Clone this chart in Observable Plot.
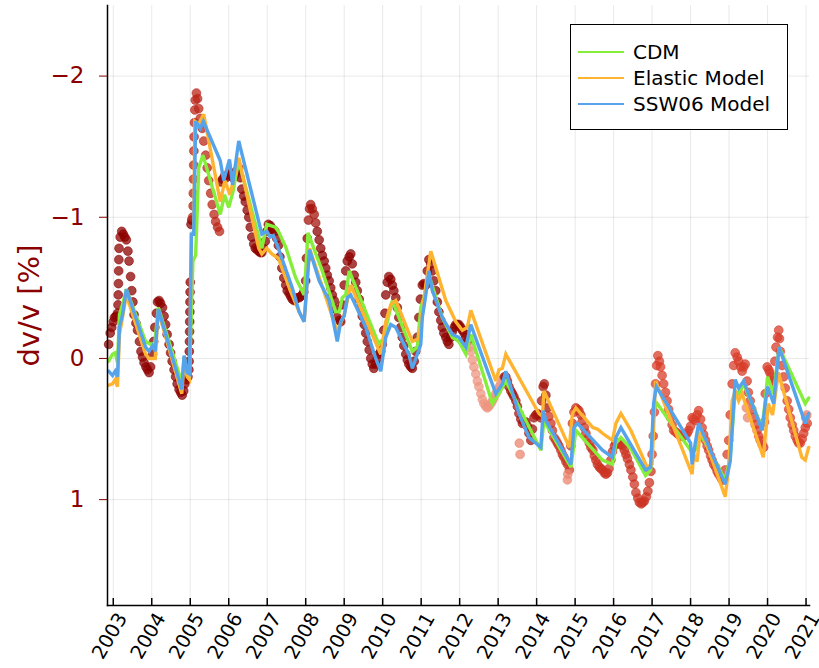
<!DOCTYPE html>
<html>
<head>
<meta charset="utf-8">
<script src="https://cdn.jsdelivr.net/npm/d3@7"></script>
<script src="https://cdn.jsdelivr.net/npm/@observablehq/plot@0.6"></script>
<style>
  html, body { margin: 0; padding: 0; background: #fff; }
  #wrap { position: relative; width: 819px; height: 668px; font-family: "DejaVu Sans", sans-serif; }
  .legend { position: absolute; left: 570px; top: 24px; width: 216px; height: 104px; border: 1.5px solid #000; background: #fff; }
  .legend .row { position: absolute; left: 7px; height: 26px; display: flex; align-items: center; font-size: 20px; color: #000; }
  .legend .sw { width: 46px; height: 2.5px; margin-right: 9px; }
</style>
</head>
<body>
<div id="wrap"></div>
<script>
// ---------- data ----------
const xTickYears = [2003,2004,2005,2006,2007,2008,2009,2010,2011,2012,2013,2014,2015,2016,2017,2018,2019,2020,2021];
const yTickValues = [-2, -1, 0, 1];
const seriesNames = ["CDM", "Elastic Model", "SSW06 Model"];
const seriesColors = ["#84ee3a", "#ffb431", "#55a3ea"];

// observed dv/v [%] : [decimal year, value]
const observed = [
[2002.88,-0.10],[2002.92,-0.18],[2002.96,-0.22],[2003.00,-0.26],[2003.03,-0.29],[2003.07,-0.30],[2003.11,-0.32],
[2003.125,-0.38],[2003.13,-0.45],[2003.135,-0.53],[2003.14,-0.62],[2003.145,-0.70],[2003.15,-0.78],[2003.18,-0.86],
[2003.22,-0.90],[2003.26,-0.88],[2003.30,-0.86],[2003.34,-0.84],[2003.38,-0.76],[2003.41,-0.69],[2003.45,-0.58],
[2003.48,-0.48],[2003.51,-0.40],[2003.54,-0.31],[2003.59,-0.25],[2003.63,-0.20],[2003.68,-0.12],[2003.72,-0.05],
[2003.76,-0.01],[2003.80,0.03],[2003.85,0.06],[2003.89,0.08],[2003.93,0.10],[2003.97,0.06],
[2004.02,-0.03],[2004.05,-0.12],[2004.08,-0.22],[2004.12,-0.32],[2004.15,-0.40],[2004.19,-0.41],[2004.23,-0.39],
[2004.28,-0.36],[2004.32,-0.30],[2004.36,-0.24],[2004.40,-0.17],[2004.45,-0.10],[2004.49,-0.04],[2004.53,0.02],
[2004.58,0.08],[2004.62,0.13],[2004.66,0.18],[2004.71,0.22],[2004.75,0.24],[2004.79,0.26],[2004.83,0.23],
[2004.86,0.18],[2004.90,0.15],[2004.94,0.13],[2004.965,0.08],[2004.97,0.02],[2004.975,-0.05],[2004.98,-0.12],
[2004.983,-0.19],[2004.986,-0.26],[2004.99,-0.33],[2004.993,-0.40],[2004.996,-0.47],[2005.00,-0.54],
[2005.02,-0.95],[2005.04,-0.98],[2005.06,-1.00],[2005.075,-1.08],[2005.08,-1.17],[2005.085,-1.27],[2005.09,-1.37],
[2005.095,-1.47],[2005.10,-1.57],[2005.11,-1.67],[2005.12,-1.76],[2005.13,-1.83],[2005.16,-1.88],[2005.19,-1.84],
[2005.22,-1.77],[2005.26,-1.70],[2005.31,-1.63],[2005.35,-1.54],[2005.40,-1.44],[2005.44,-1.35],[2005.48,-1.26],
[2005.53,-1.17],[2005.57,-1.09],[2005.62,-1.02],[2005.66,-0.97],[2005.71,-0.93],[2005.76,-0.90],
[2005.80,-1.25],[2005.84,-1.27],[2005.89,-1.29],[2005.93,-1.28],[2005.98,-1.30],
[2006.02,-1.32],[2006.07,-1.30],[2006.11,-1.28],[2006.16,-1.30],[2006.21,-1.33],[2006.26,-1.35],[2006.30,-1.28],
[2006.34,-1.20],[2006.39,-1.15],[2006.43,-1.11],[2006.48,-1.05],[2006.52,-1.00],[2006.56,-0.93],[2006.60,-0.86],
[2006.65,-0.81],[2006.69,-0.78],[2006.74,-0.77],[2006.78,-0.76],[2006.82,-0.75],[2006.86,-0.75],[2006.90,-0.78],
[2006.95,-0.83],[2006.99,-0.90],
[2007.03,-0.95],[2007.08,-0.94],[2007.12,-0.92],[2007.16,-0.91],[2007.20,-0.90],[2007.25,-0.85],[2007.29,-0.80],
[2007.33,-0.72],[2007.38,-0.64],[2007.43,-0.57],[2007.48,-0.52],[2007.52,-0.48],[2007.57,-0.46],[2007.61,-0.44],
[2007.65,-0.42],[2007.70,-0.41],[2007.74,-0.42],[2007.78,-0.43],[2007.83,-0.43],[2007.87,-0.44],[2007.91,-0.45],
[2007.95,-0.47],
[2008.00,-0.55],[2008.02,-0.71],[2008.04,-0.85],[2008.07,-0.98],[2008.10,-1.06],[2008.13,-1.09],[2008.17,-1.06],
[2008.22,-1.02],[2008.26,-0.96],[2008.30,-0.90],[2008.35,-0.84],[2008.39,-0.78],[2008.43,-0.73],[2008.48,-0.69],
[2008.52,-0.64],[2008.56,-0.59],[2008.61,-0.55],[2008.65,-0.50],[2008.69,-0.45],[2008.74,-0.41],[2008.78,-0.35],
[2008.82,-0.29],[2008.87,-0.27],[2008.91,-0.26],[2008.95,-0.38],
[2009.00,-0.52],[2009.04,-0.62],[2009.08,-0.69],[2009.13,-0.72],[2009.17,-0.74],[2009.21,-0.67],[2009.26,-0.59],
[2009.30,-0.54],[2009.34,-0.48],[2009.39,-0.42],[2009.43,-0.36],[2009.47,-0.30],[2009.52,-0.24],[2009.56,-0.18],
[2009.60,-0.12],[2009.65,-0.06],[2009.69,0.00],[2009.73,0.04],[2009.77,0.07],[2009.82,0.04],[2009.86,0.00],
[2009.90,-0.03],[2009.95,-0.05],[2009.99,-0.10],
[2010.03,-0.20],[2010.06,-0.32],[2010.08,-0.45],[2010.12,-0.54],[2010.16,-0.58],[2010.21,-0.56],[2010.25,-0.52],
[2010.29,-0.48],[2010.34,-0.43],[2010.38,-0.36],[2010.42,-0.29],[2010.47,-0.22],[2010.51,-0.15],[2010.55,-0.09],
[2010.60,-0.03],[2010.64,0.01],[2010.68,0.04],[2010.73,0.06],[2010.77,0.07],[2010.82,0.02],[2010.86,-0.05],
[2010.90,-0.15],[2010.94,-0.29],[2010.98,-0.42],
[2011.03,-0.52],[2011.07,-0.53],[2011.12,-0.52],[2011.16,-0.62],[2011.20,-0.70],[2011.25,-0.67],[2011.29,-0.62],
[2011.33,-0.55],[2011.38,-0.48],[2011.42,-0.40],[2011.46,-0.33],[2011.51,-0.27],[2011.55,-0.22],[2011.59,-0.18],
[2011.64,-0.15],[2011.68,-0.12],[2011.72,-0.10],[2011.77,-0.15],[2011.81,-0.19],[2011.86,-0.22],[2011.90,-0.24],
[2011.94,-0.24],[2011.98,-0.24],
[2012.03,-0.22],[2012.07,-0.20],[2012.12,-0.18],[2012.16,-0.15],[2012.20,-0.12],[2012.25,-0.08],[2012.29,-0.05],
[2012.33,0.01],[2012.37,0.06],[2012.42,0.11],[2012.46,0.16],[2012.50,0.20],[2012.55,0.25],[2012.59,0.29],
[2012.63,0.32],[2012.68,0.34],[2012.72,0.35],[2012.76,0.34],[2012.81,0.32],[2012.85,0.30],[2012.89,0.28],
[2012.94,0.25],[2012.98,0.23],
[2013.03,0.20],[2013.07,0.18],[2013.11,0.15],[2013.16,0.13],[2013.20,0.13],[2013.24,0.16],[2013.28,0.20],
[2013.33,0.23],[2013.37,0.25],[2013.41,0.27],[2013.46,0.30],[2013.50,0.34],[2013.54,0.39],[2013.59,0.43],
[2013.63,0.46],[2013.67,0.45],[2013.72,0.45],[2013.76,0.48],[2013.80,0.53],[2013.85,0.58],[2013.89,0.50],
[2013.93,0.42],[2013.98,0.40],
[2014.02,0.39],[2014.06,0.40],[2014.10,0.42],[2014.13,0.30],[2014.17,0.20],[2014.20,0.18],[2014.24,0.26],
[2014.28,0.35],[2014.32,0.41],[2014.37,0.46],[2014.41,0.51],[2014.45,0.56],[2014.50,0.58],[2014.54,0.60],
[2014.58,0.62],[2014.63,0.65],[2014.67,0.68],[2014.71,0.70],[2014.76,0.73],[2014.80,0.75],[2014.85,0.79],
[2014.89,0.62],[2014.93,0.46],[2014.97,0.38],
[2015.02,0.35],[2015.06,0.36],[2015.10,0.37],[2015.15,0.40],[2015.19,0.44],[2015.24,0.49],[2015.28,0.53],
[2015.32,0.57],[2015.37,0.60],[2015.41,0.63],[2015.46,0.65],[2015.50,0.69],[2015.54,0.72],[2015.58,0.75],
[2015.63,0.77],[2015.67,0.78],[2015.71,0.79],[2015.76,0.81],[2015.80,0.82],[2015.84,0.81],[2015.88,0.78],
[2015.93,0.72],[2015.97,0.66],
[2016.02,0.62],[2016.06,0.60],[2016.10,0.60],[2016.15,0.60],[2016.19,0.61],[2016.23,0.62],[2016.28,0.65],
[2016.32,0.68],[2016.36,0.71],[2016.41,0.75],[2016.45,0.79],[2016.50,0.84],[2016.54,0.89],[2016.58,0.95],
[2016.63,0.99],[2016.67,1.02],[2016.72,1.03],[2016.76,1.02],[2016.80,1.01],[2016.85,0.98],[2016.89,0.94],
[2016.93,0.88],[2016.97,0.80],
[2017.00,0.68],[2017.03,0.55],[2017.06,0.38],[2017.09,0.18],[2017.12,0.05],[2017.15,-0.02],[2017.19,0.02],
[2017.22,0.06],[2017.26,0.12],[2017.30,0.18],[2017.35,0.24],[2017.39,0.30],[2017.43,0.36],[2017.48,0.42],
[2017.52,0.47],[2017.56,0.51],[2017.61,0.52],[2017.65,0.53],[2017.69,0.54],[2017.74,0.55],[2017.78,0.55],
[2017.82,0.55],[2017.87,0.54],[2017.91,0.53],[2017.95,0.51],
[2018.00,0.48],[2018.04,0.42],[2018.08,0.43],[2018.13,0.44],[2018.17,0.40],[2018.21,0.37],[2018.26,0.43],
[2018.30,0.49],[2018.34,0.54],[2018.39,0.58],[2018.43,0.62],[2018.47,0.65],[2018.52,0.69],[2018.56,0.72],
[2018.60,0.75],[2018.65,0.77],[2018.69,0.80],[2018.73,0.82],[2018.78,0.84],[2018.82,0.86],[2018.86,0.86],
[2018.90,0.79],[2018.95,0.68],[2018.99,0.58],
[2019.03,0.40],[2019.08,0.18],[2019.12,0.05],[2019.16,-0.04],[2019.21,-0.01],[2019.25,0.02],[2019.30,0.06],
[2019.34,0.09],[2019.38,0.06],[2019.42,0.04],[2019.47,0.16],[2019.50,0.24],[2019.55,0.30],[2019.59,0.36],
[2019.64,0.42],[2019.68,0.47],[2019.73,0.51],[2019.77,0.55],[2019.81,0.58],[2019.86,0.61],[2019.90,0.63],
[2019.92,0.45],[2019.94,0.25],[2019.99,0.06],
[2020.03,0.08],[2020.06,0.10],[2020.10,0.13],[2020.13,0.16],[2020.16,0.16],[2020.19,0.02],[2020.22,-0.08],
[2020.26,-0.15],[2020.29,-0.20],[2020.31,-0.14],[2020.33,-0.05],[2020.38,0.05],[2020.42,0.13],[2020.46,0.21],
[2020.51,0.30],[2020.55,0.36],[2020.59,0.42],[2020.64,0.47],[2020.68,0.51],[2020.72,0.55],[2020.77,0.58],
[2020.81,0.60],[2020.85,0.60],[2020.90,0.57],[2020.94,0.53],[2020.98,0.49],[2021.03,0.46]
];
// scattered pale observations
const observedPale = [[2013.55,0.60],[2013.57,0.68],[2014.80,0.86],[2014.81,0.82],[2019.45,0.35],[2019.48,0.42],[2020.99,0.42],[2021.02,0.40]];

// colour level of observed points (1 = dark red, 0 = pale salmon)
const shadeBreaks = [2005.05, 2005.78, 2008.05, 2008.3, 2012.25, 2013.16, 2014.3, 2017.0];
const shadeLevels = [0.98, 0.72, 0.98, 0.85, 0.98, 0.12, 0.85, 0.62, 0.55];
const paleLevel = 0.2;

// model curves : [decimal year, value]
const cdm = [
[2002.88,0.02],[2002.98,-0.03],[2003.05,-0.04],[2003.11,0.03],[2003.16,-0.31],[2003.24,-0.38],[2003.34,-0.49],
[2003.84,-0.12],[2003.97,-0.10],[2004.08,-0.11],[2004.17,-0.36],[2004.78,0.17],[2004.84,-0.01],[2004.92,0.09],
[2004.98,0.11],[2005.07,-0.69],[2005.14,-0.73],[2005.22,-1.35],[2005.33,-1.44],[2005.78,-1.02],[2005.89,-1.16],
[2006.00,-1.07],[2006.11,-1.18],[2006.26,-1.40],[2006.86,-0.78],[2006.99,-0.95],[2007.21,-0.93],[2007.29,-0.90],
[2007.48,-0.79],[2007.74,-0.57],[2007.96,-0.45],[2008.06,-0.89],[2008.43,-0.62],[2008.78,-0.33],[2008.87,-0.33],
[2008.95,-0.43],[2009.04,-0.45],[2009.13,-0.62],[2009.90,-0.10],[2009.95,-0.12],[2010.03,-0.14],[2010.12,-0.26],
[2010.25,-0.41],[2010.77,-0.05],[2010.90,-0.08],[2010.99,-0.36],[2011.07,-0.43],[2011.20,-0.59],[2011.55,-0.29],
[2011.81,-0.15],[2011.98,-0.12],[2012.16,-0.03],[2012.29,-0.17],[2012.85,0.32],[2013.02,0.25],[2013.20,0.16],
[2014.11,0.65],[2014.19,0.44],[2014.89,0.77],[2015.02,0.51],[2015.71,0.72],[2015.97,0.75],[2016.06,0.60],
[2016.19,0.56],[2016.45,0.64],[2016.83,0.83],[2016.96,0.79],[2017.04,0.37],[2017.13,0.32],[2018.00,0.65],
[2018.04,0.67],[2018.12,0.65],[2018.21,0.51],[2018.90,0.86],[2019.03,0.70],[2019.16,0.23],[2019.25,0.25],
[2019.38,0.18],[2019.86,0.49],[2019.94,0.30],[2020.00,0.13],[2020.16,0.25],[2020.30,-0.08],[2020.98,0.32],
[2021.07,0.28]
];
const elastic = [
[2002.88,0.19],[2002.98,0.18],[2003.05,0.15],[2003.11,0.20],[2003.16,-0.17],[2003.24,-0.29],[2003.34,-0.45],
[2003.84,-0.03],[2003.93,0.00],[2004.09,0.00],[2004.17,-0.34],[2004.78,0.25],[2004.84,0.02],[2004.92,0.13],
[2004.98,0.15],[2005.03,-0.88],[2005.09,-0.90],[2005.12,-1.68],[2005.22,-1.66],[2005.35,-1.73],[2005.78,-1.11],
[2005.90,-1.26],[2006.03,-1.16],[2006.12,-1.26],[2006.26,-1.42],[2006.78,-0.78],[2006.86,-0.74],[2006.99,-0.78],
[2007.12,-0.74],[2007.29,-0.71],[2007.60,-0.48],[2007.83,-0.33],[2007.96,-0.26],[2008.10,-0.78],[2008.82,-0.19],
[2009.00,-0.31],[2009.17,-0.52],[2009.95,-0.03],[2010.08,-0.26],[2010.21,-0.38],[2010.34,-0.41],[2010.77,-0.12],
[2010.94,-0.14],[2011.12,-0.52],[2011.25,-0.76],[2011.64,-0.41],[2011.90,-0.26],[2012.07,-0.20],[2012.20,-0.22],
[2012.29,-0.34],[2012.94,0.16],[2013.02,0.08],[2013.11,0.07],[2013.20,-0.03],[2014.06,0.39],[2014.15,0.41],
[2014.19,0.23],[2014.85,0.63],[2014.93,0.39],[2015.02,0.35],[2015.46,0.49],[2015.58,0.50],[2015.71,0.53],
[2015.97,0.58],[2016.06,0.46],[2016.19,0.39],[2016.45,0.51],[2016.87,0.77],[2017.00,0.75],[2017.09,0.16],
[2018.04,0.82],[2018.08,0.68],[2018.17,0.73],[2018.26,0.49],[2018.90,0.98],[2018.99,0.77],[2019.08,0.30],
[2019.16,0.23],[2019.25,0.30],[2019.34,0.25],[2019.89,0.70],[2020.02,0.32],[2020.13,0.40],[2020.28,0.10],
[2020.89,0.70],[2020.98,0.72],[2021.07,0.63]
];
const ssw06 = [
[2002.88,0.09],[2002.98,0.12],[2003.05,0.09],[2003.11,0.13],[2003.16,-0.22],[2003.24,-0.31],[2003.34,-0.49],
[2003.84,-0.08],[2003.93,-0.05],[2004.02,-0.09],[2004.09,-0.05],[2004.17,-0.35],[2004.78,0.22],[2004.84,-0.02],
[2004.92,0.10],[2004.98,0.11],[2005.03,-0.88],[2005.09,-0.88],[2005.14,-1.68],[2005.26,-1.63],[2005.34,-1.68],
[2005.78,-1.40],[2005.87,-1.26],[2006.02,-1.41],[2006.10,-1.23],[2006.26,-1.54],[2006.86,-0.88],[2006.99,-0.90],
[2007.08,-0.86],[2007.16,-0.87],[2007.29,-0.78],[2007.65,-0.50],[2007.83,-0.33],[2007.96,-0.26],[2008.10,-0.77],
[2008.35,-0.55],[2008.61,-0.41],[2008.82,-0.12],[2008.91,-0.26],[2009.00,-0.30],[2009.08,-0.43],[2009.17,-0.45],
[2009.56,-0.22],[2009.82,0.00],[2009.95,0.09],[2010.08,-0.15],[2010.21,-0.24],[2010.34,-0.22],[2010.68,-0.03],
[2010.77,0.07],[2010.90,-0.03],[2010.99,-0.10],[2011.03,-0.29],[2011.12,-0.45],[2011.20,-0.62],[2011.29,-0.48],
[2011.55,-0.29],[2011.81,-0.17],[2011.98,-0.15],[2012.16,-0.08],[2012.29,-0.24],[2012.94,0.25],[2013.11,0.18],
[2013.20,0.09],[2013.54,0.39],[2013.80,0.56],[2014.11,0.63],[2014.17,0.37],[2014.24,0.44],[2014.89,0.75],
[2014.97,0.49],[2015.06,0.46],[2015.54,0.60],[2015.71,0.65],[2015.97,0.70],[2016.06,0.56],[2016.19,0.49],
[2016.83,0.79],[2016.96,0.77],[2017.04,0.32],[2017.11,0.20],[2018.00,0.60],[2018.04,0.75],[2018.12,0.60],
[2018.21,0.46],[2018.90,0.89],[2019.03,0.73],[2019.16,0.15],[2019.25,0.21],[2019.38,0.16],[2019.86,0.51],
[2019.94,0.32],[2020.00,0.20],[2020.16,0.32],[2020.30,-0.08],[2020.98,0.46],[2021.07,0.39]
];

// ---------- build tables ----------
const obsRows = observed.map(([t, v]) => ({t, v, shade: shadeLevels[d3.bisectRight(shadeBreaks, t)]}));
const paleRows = observedPale.map(([t, v]) => ({t, v, shade: paleLevel}));
const dotRows = obsRows.concat(paleRows);
const models = [cdm, elastic, ssw06];

const darkRed = "#8b0000";
const fmtY = d => (d < 0 ? "\u2212" + Math.abs(d) : String(d));

const chart = Plot.plot({
  width: 819,
  height: 668,
  marginLeft: 107,
  marginRight: 10,
  marginTop: 5,
  marginBottom: 63,
  style: {fontFamily: "DejaVu Sans, sans-serif", background: "#fff", overflow: "visible"},
  x: {domain: [2002.85, 2021.09]},
  y: {domain: [-2.5, 1.75], reverse: true},
  color: {type: "linear", domain: [0, 0.5, 1], range: ["#f3b09b", "#e0452e", "#8b0000"]},
  marks: [
    Plot.gridX(xTickYears, {stroke: "#000", strokeOpacity: 0.09, strokeWidth: 1}),
    Plot.gridY(yTickValues, {stroke: "#000", strokeOpacity: 0.09, strokeWidth: 1}),
    Plot.dot(dotRows, {x: "t", y: "v", r: 4.4, fill: "shade", stroke: "shade", fillOpacity: 0.75, strokeOpacity: 0.6, strokeWidth: 1}),
    ...models.map((m, i) => Plot.line(m, {x: d => d[0], y: d => d[1], stroke: seriesColors[i], strokeWidth: 3.4, strokeLinejoin: "miter", strokeMiterlimit: 3})),
    Plot.tickX(xTickYears, {stroke: "#000", strokeWidth: 1.5, insetTop: 593}),
    Plot.axisX(xTickYears, {tickSize: 0, tickPadding: 9, tickRotate: -60, fontSize: 19.5, dx: 9, fill: "#000", tickFormat: d => String(d), label: null}),
    Plot.axisY(yTickValues, {tickSize: 8, tickPadding: 15, fontSize: 23, color: darkRed, stroke: darkRed, tickFormat: fmtY, label: null}),
    Plot.frame({anchor: "left", stroke: "#000", strokeWidth: 1.5}),
    Plot.frame({anchor: "bottom", stroke: "#000", strokeWidth: 1.5}),
    Plot.text(["dv/v [%]"], {frameAnchor: "left", textAnchor: "middle", dx: -78, rotate: -90, fontSize: 29, fill: darkRed})
  ]
});

const wrap = document.getElementById("wrap");
wrap.appendChild(chart);

// legend (inside the plot area, top right)
const legend = document.createElement("div");
legend.className = "legend";
seriesNames.forEach((name, i) => {
  const row = document.createElement("div");
  row.className = "row";
  row.style.top = (14 + i * 26) + "px";
  const sw = document.createElement("div");
  sw.className = "sw";
  sw.style.background = seriesColors[i];
  const label = document.createElement("span");
  label.textContent = name;
  row.appendChild(sw);
  row.appendChild(label);
  legend.appendChild(row);
});
wrap.appendChild(legend);
</script>
</body>
</html>
